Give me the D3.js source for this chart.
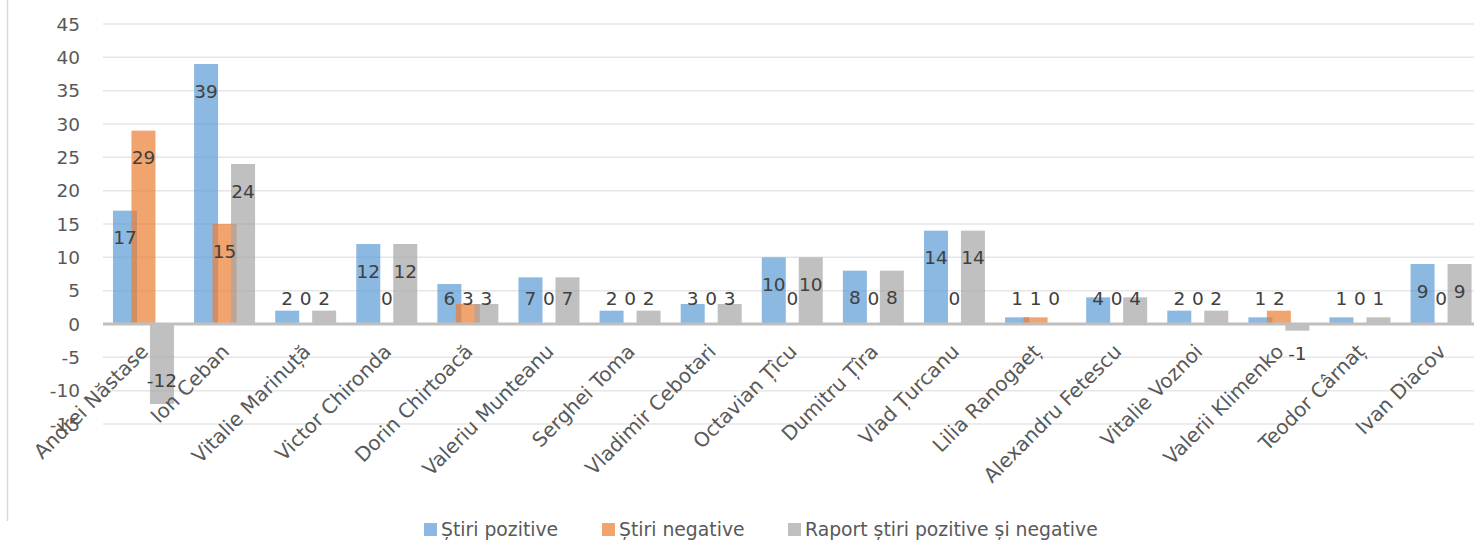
<!DOCTYPE html>
<html><head><meta charset="utf-8">
<script src="https://cdn.jsdelivr.net/npm/d3@7"></script>
<style>body{margin:0;background:#fff}svg{display:block}text{font-family:"DejaVu Sans",sans-serif}</style>
</head><body>
<svg id="c" width="1474" height="542"></svg>
<script>
const categories = ["Andrei Năstase","Ion Ceban","Vitalie Marinuță","Victor Chironda","Dorin Chirtoacă","Valeriu Munteanu","Serghei Toma","Vladimir Cebotari","Octavian Țîcu","Dumitru Țîra","Vlad Țurcanu","Lilia Ranogaeț","Alexandru Fetescu","Vitalie Voznoi","Valerii Klimenko","Teodor Cârnaț","Ivan Diacov"];
const pozitive = [17,39,2,12,6,7,2,3,10,8,14,1,4,2,1,1,9];
const negative = [29,15,0,0,3,0,0,0,0,0,0,1,0,0,2,0,0];
const raport = [-12,24,2,12,3,7,2,3,10,8,14,0,4,2,-1,1,9];
const seriesNames = ["Știri pozitive","Știri negative","Raport știri pozitive și negative"];
const yTicks = [-15,-10,-5,0,5,10,15,20,25,30,35,40,45];

const colors = ["#5B9BD5","#ED7D31","#A5A5A5"];
const legendColors = ["#8CB9E3","#F2A46F","#C0C0C0"];
const series = [pozitive, negative, raport];

const svg = d3.select("#c");
const left = 103, catW = 81.1;
const x = d3.scaleBand().domain(categories).range([left, left + catW*categories.length]).padding(0);
const y = d3.scaleLinear().domain([-15,45]).range([424,24]);

// frame line at left
svg.append("line").attr("x1",7.5).attr("x2",7.5).attr("y1",0).attr("y2",521).attr("stroke","#d9d9d9").attr("stroke-width",1.5);

// gridlines
svg.append("g").selectAll("line").data(yTicks.filter(d=>d!==0)).join("line")
  .attr("x1",left).attr("x2",1474).attr("y1",d=>y(d)).attr("y2",d=>y(d))
  .attr("stroke","#e6e6e6").attr("stroke-width",1.5);

// y tick labels
svg.append("g").selectAll("text").data(yTicks).join("text")
  .attr("x",80).attr("y",d=>y(d)).attr("dy","0.36em").attr("text-anchor","end")
  .attr("font-size",18.5).attr("fill","#595959").text(d=>d);

const bw = catW*0.296, step = catW*0.228, off = catW*0.123;
const bx = (i,s) => x(categories[i]) + off + s*step;

// bars
series.forEach((vals,s)=>{
  svg.append("g").selectAll("rect").data(vals).join("rect")
    .attr("x",(d,i)=>bx(i,s)).attr("width",bw)
    .attr("y",d=>y(Math.max(0,d))).attr("height",d=>Math.abs(y(d)-y(0)))
    .attr("fill",colors[s]).attr("fill-opacity",0.7);
});

// zero line
svg.append("line").attr("x1",left).attr("x2",1474).attr("y1",y(0)).attr("y2",y(0))
  .attr("stroke","#bfbfbf").attr("stroke-width",3);

// category labels
svg.append("g").selectAll("text").data(categories).join("text")
  .attr("transform",d=>`translate(${x(d)+x.bandwidth()/2-4},${y(0)+19}) rotate(-45)`)
  .attr("text-anchor","end").attr("dy","0.7em")
  .attr("font-size",20).attr("fill","#595959").text(d=>d);

// data labels
series.forEach((vals,s)=>{
  svg.append("g").selectAll("text").data(vals).join("text")
    .attr("x",(d,i)=>bx(i,s)+bw/2)
    .attr("y",d=> d>=0 ? Math.min(y(d)+27, y(0)-26) : Math.max(y(d)-24, y(0)+29))
    .attr("dy","0.36em").attr("text-anchor","middle")
    .attr("font-size",18.5).attr("fill","#404040").text(d=>d);
});

// legend
const lx = [424,602,788];
const lg = svg.append("g");
seriesNames.forEach((n,i)=>{
  lg.append("rect").attr("x",lx[i]).attr("y",523).attr("width",13).attr("height",13).attr("fill",legendColors[i]);
  lg.append("text").attr("x",lx[i]+17).attr("y",536).attr("font-size",18.8).attr("fill","#595959").text(n);
});
</script>
</body></html>
